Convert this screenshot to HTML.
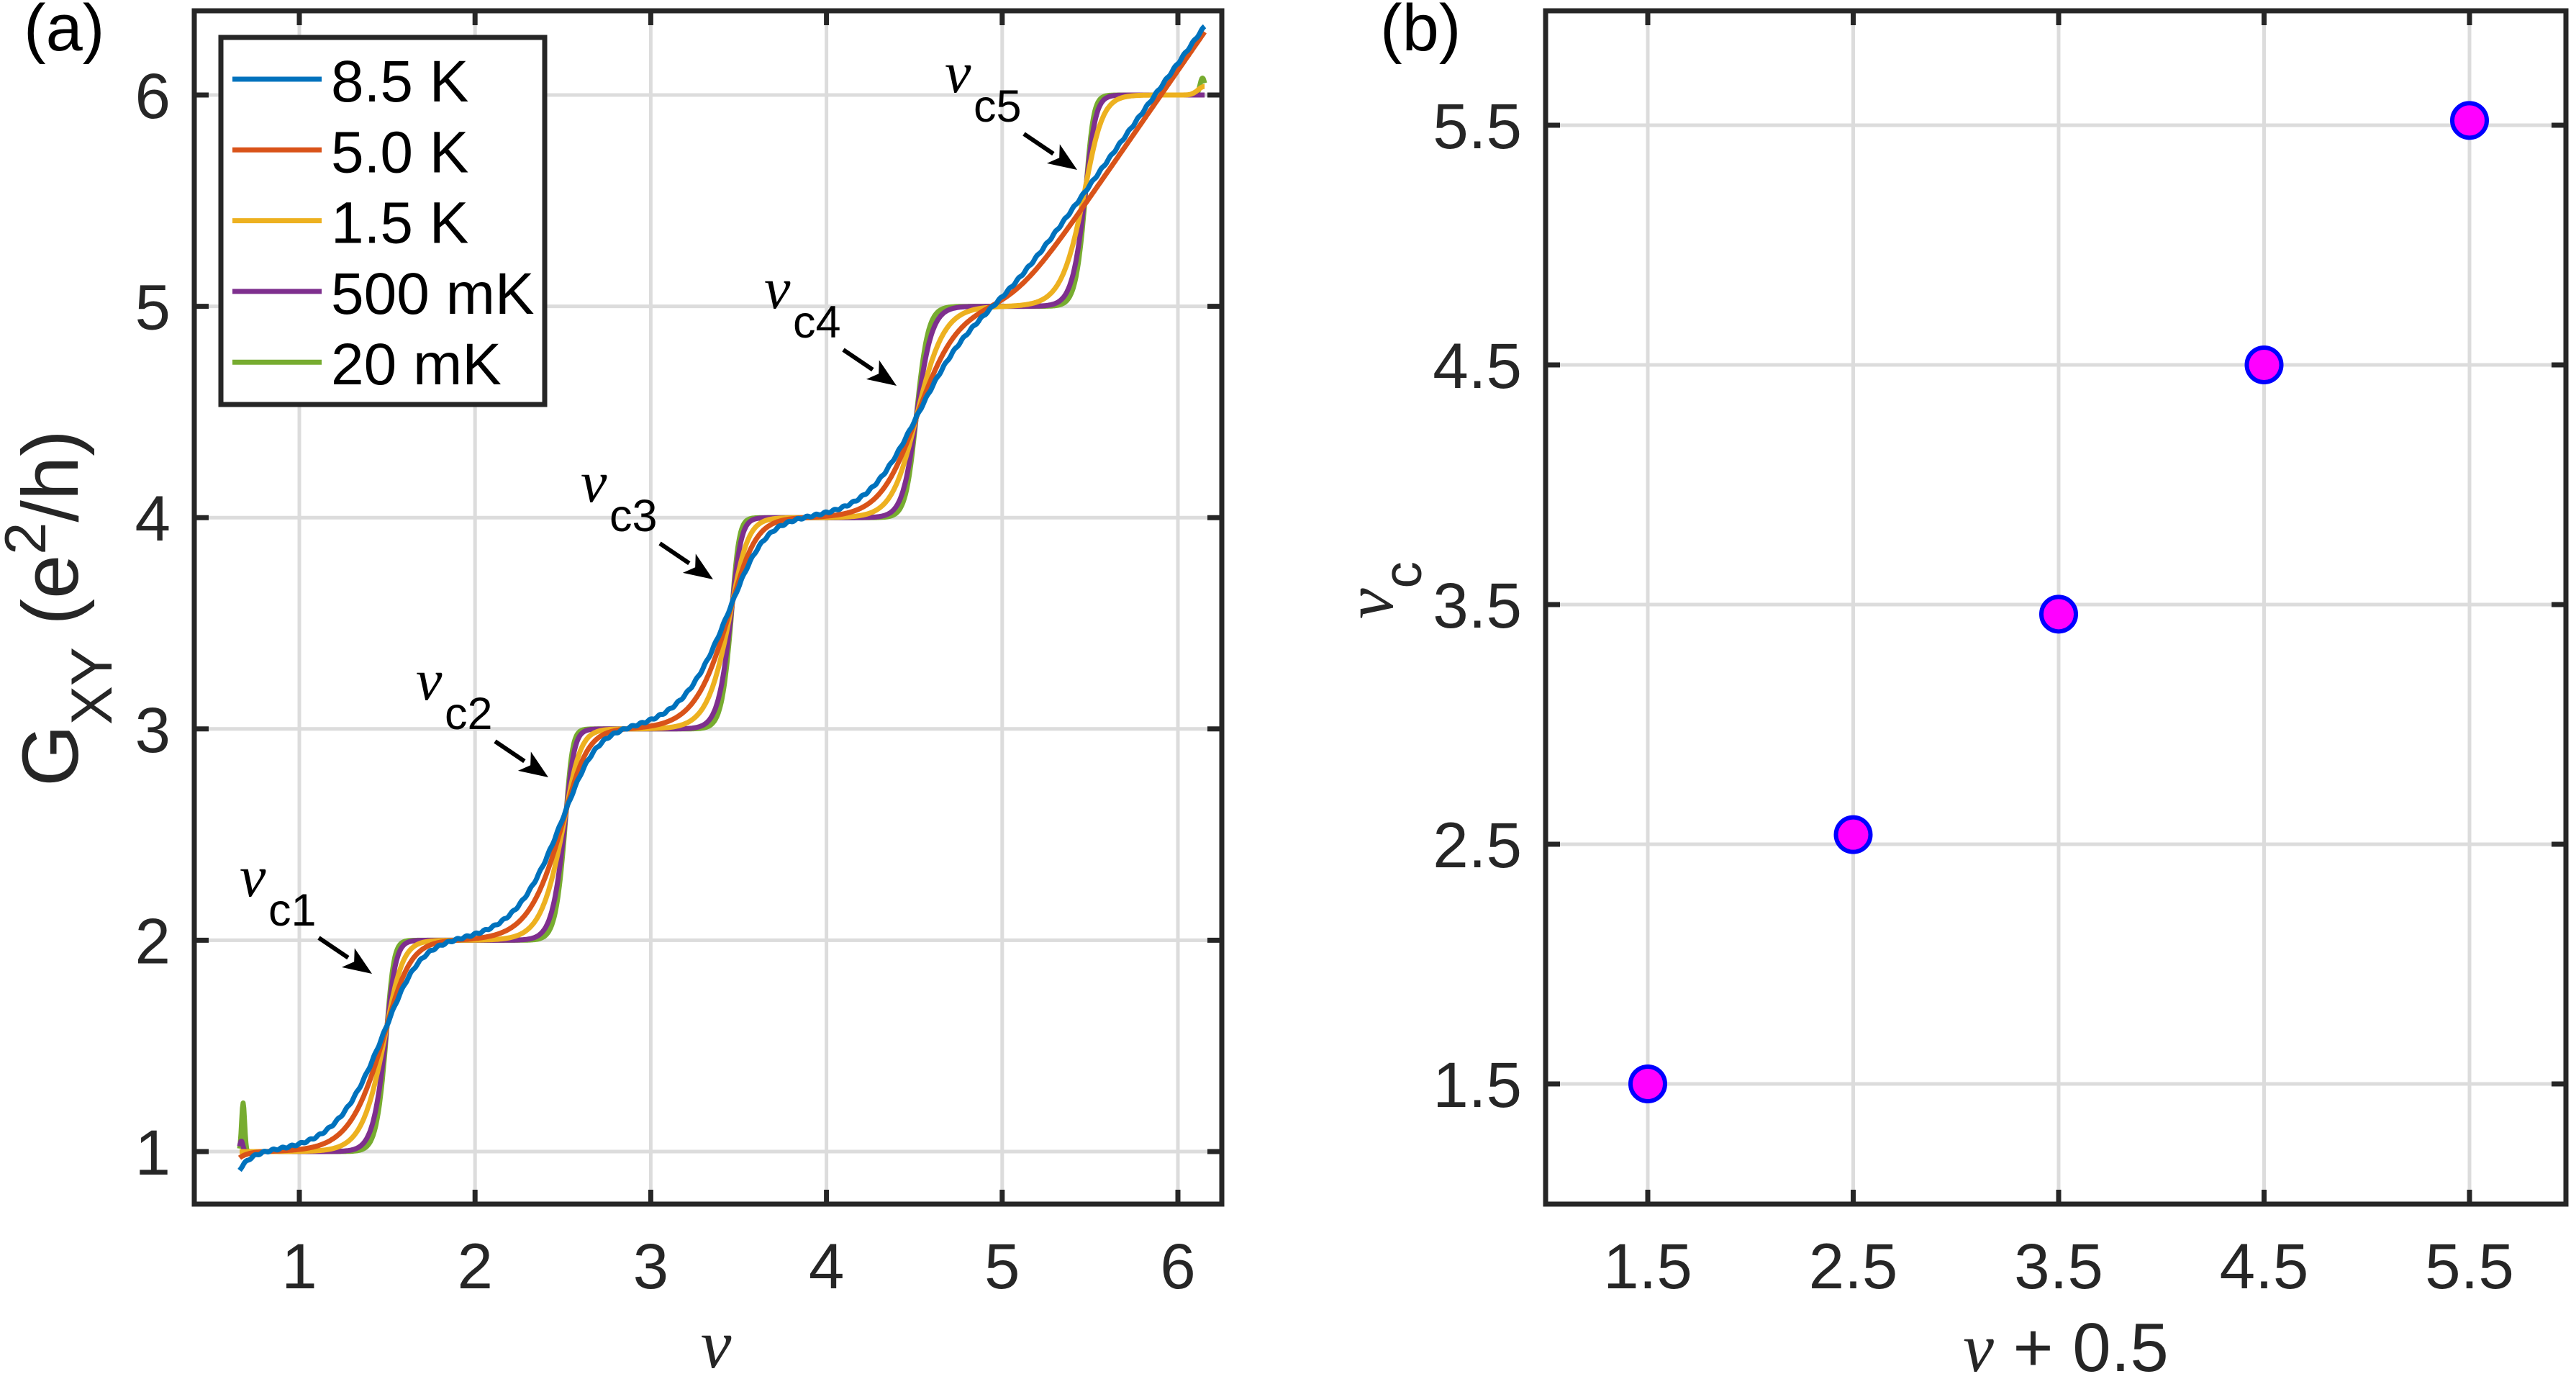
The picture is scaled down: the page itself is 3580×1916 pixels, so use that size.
<!DOCTYPE html>
<html><head><meta charset="utf-8"><style>
html,body{margin:0;padding:0;background:#fff;}
svg{display:block;}
text{font-family:"Liberation Sans",sans-serif;}
.nu{font-family:"Liberation Serif","DejaVu Serif",serif;font-style:italic;}
</style></head><body>
<svg id="s" width="3580" height="1916" viewBox="0 0 3580 1916" xmlns="http://www.w3.org/2000/svg">
<rect width="3580" height="1916" fill="#fff"/>
<g id="g"></g>
</svg>
<script>
const NS="http://www.w3.org/2000/svg";
const G=document.getElementById('g');
function el(t,a,txt){const e=document.createElementNS(NS,t);for(const k in a)e.setAttribute(k,a[k]);if(txt!==undefined)e.textContent=txt;G.appendChild(e);return e;}
const AX="#262626",GR="#dcdcdc";
// Panel a
const aL=270,aR=1698,aT=15,aB=1673;
const ax=v=>416+(v-1)*244.2, ay=g=>1600-(g-1)*293.6;
for(let v=1;v<=6;v++){el('line',{x1:ax(v),x2:ax(v),y1:aT,y2:aB,stroke:GR,'stroke-width':5});}
for(let g=1;g<=6;g++){el('line',{x1:aL,x2:aR,y1:ay(g),y2:ay(g),stroke:GR,'stroke-width':5});}
const steps=[[1.5,0.6],[2.52,0.62],[3.465,0.6],[4.51,0.47],[5.48,0.59]];
const th=Math.tanh;
function stepval(v,c,p,w){
  if(v<c){return p*(1+th((v-c)/w));}
  const wr=w*(1-p)/p; return p+(1-p)*th((v-c)/wr);
}
function sp(x,w){return w*Math.log(1+Math.exp(x/w));}
const series=[
 {c:"#77AC30",w:0.06},
 {c:"#7E2F8E",w:0.08},
 {c:"#EDB120",w:0.14},
 {c:"#D95319",w:0.21},
 {c:"#0072BD",w:0.29}
];
series.forEach((s,i)=>{
  let pts=[];
  const hi=(s.c==="#0072BD"||s.c==="#D95319");
  for(let v=0.66;v<=6.155;v+=0.004){
    let g=1;
    const n=hi?4:5;
    for(let k=0;k<n;k++){g+=stepval(v,steps[k][0],steps[k][1],s.w);}
    if(s.c==="#0072BD"){g+=1.15*sp(v-5.0,0.12);g-=0.09*Math.exp(-(v-0.66)/0.07);g+=0.004*Math.sin(v*120);}
    if(s.c==="#D95319"){g+=1.2*sp(v-5.07,0.1);g-=0.03*Math.exp(-(v-0.66)/0.05);}
    if(s.c==="#77AC30"){g+=0.23*Math.exp(-Math.pow((v-0.68)/0.012,2));g+=0.08*Math.exp(-Math.pow((v-6.14)/0.02,2));}
    if(s.c==="#7E2F8E"){g+=0.05*Math.exp(-Math.pow((v-0.67)/0.012,2));}
    if(s.c==="#EDB120"){g+=0.04*Math.exp(-Math.pow((v-6.15)/0.05,2));}
    pts.push(ax(v).toFixed(1)+","+ay(g).toFixed(1));
  }
  el('polyline',{points:pts.join(" "),fill:"none",stroke:s.c,'stroke-width':7,'stroke-linejoin':'round'});
});
el('rect',{x:aL,y:aT,width:aR-aL,height:aB-aT,fill:"none",stroke:AX,'stroke-width':7});
for(let v=1;v<=6;v++){el('line',{x1:ax(v),x2:ax(v),y1:aB,y2:aB-20,stroke:AX,'stroke-width':7});el('line',{x1:ax(v),x2:ax(v),y1:aT,y2:aT+20,stroke:AX,'stroke-width':7});
 el('text',{x:ax(v),y:1790,'font-size':89,fill:AX,'text-anchor':'middle'},String(v));}
for(let g=1;g<=6;g++){el('line',{x1:aL,x2:aL+20,y1:ay(g),y2:ay(g),stroke:AX,'stroke-width':7});el('line',{x1:aR,x2:aR-20,y1:ay(g),y2:ay(g),stroke:AX,'stroke-width':7});
 el('text',{x:237,y:ay(g)+32,'font-size':89,fill:AX,'text-anchor':'end'},String(g));}
el('rect',{x:307,y:52,width:450,height:510,fill:"#fff",stroke:AX,'stroke-width':7});
const leg=[["8.5 K","#0072BD"],["5.0 K","#D95319"],["1.5 K","#EDB120"],["500 mK","#7E2F8E"],["20 mK","#77AC30"]];
leg.forEach((l,i)=>{const y=110+i*98.3;el('line',{x1:323,x2:447,y1:y,y2:y,stroke:l[1],'stroke-width':7});
 el('text',{x:460,y:y+31,'font-size':82,fill:"#000"},l[0]);});
const ann=[[333,1245,"c1"],[578,972,"c2"],[807,697,"c3"],[1062,428,"c4"],[1313,128,"c5"]];
ann.forEach(a=>{const [x,y,t]=a;
 el('text',{x:x,y:y,'font-size':82,fill:"#000",class:"nu"},"ν");
 el('text',{x:x+40,y:y+41,'font-size':63,fill:"#000"},t);
 const x1=x+110,y1=y+58,x2=x+184,y2=y+108;
 const dx=x2-x1,dy=y2-y1,L=Math.hypot(dx,dy),ux=dx/L,uy=dy/L;
 const bx=x2-ux*40,by=y2-uy*40;
 el('line',{x1:x1,y1:y1,x2:bx,y2:by,stroke:"#000",'stroke-width':6});
 el('polygon',{points:`${x2},${y2} ${bx-uy*16},${by+ux*16} ${x2-ux*30},${y2-uy*30} ${bx+uy*16},${by-ux*16}`,fill:"#000"});
});
el('text',{x:995,y:1900,'font-size':96,fill:AX,'text-anchor':'middle',class:"nu"},"ν");
const yl=el('text',{transform:"translate(108,845) rotate(-90)",'font-size':110,fill:AX,'text-anchor':'middle'});
yl.innerHTML='G<tspan font-size="81" dy="47">XY</tspan><tspan dy="-47"> (e</tspan><tspan font-size="81" dy="-45">2</tspan><tspan dy="45">/h)</tspan>';
el('text',{x:33,y:70,'font-size':92,fill:"#000"},"(a)");
// Panel b
const bL=2148,bR=3566,bT=15,bB=1673;
const bx_=v=>2290+(v-1.5)*285.5, by_=v=>1506-(v-1.5)*333;
const tk=[1.5,2.5,3.5,4.5,5.5];
tk.forEach(v=>{el('line',{x1:bx_(v),x2:bx_(v),y1:bT,y2:bB,stroke:GR,'stroke-width':5});el('line',{x1:bL,x2:bR,y1:by_(v),y2:by_(v),stroke:GR,'stroke-width':5});});
el('rect',{x:bL,y:bT,width:bR-bL,height:bB-bT,fill:"none",stroke:AX,'stroke-width':7});
tk.forEach(v=>{
 el('line',{x1:bx_(v),x2:bx_(v),y1:bB,y2:bB-20,stroke:AX,'stroke-width':7});el('line',{x1:bx_(v),x2:bx_(v),y1:bT,y2:bT+20,stroke:AX,'stroke-width':7});
 el('line',{x1:bL,x2:bL+20,y1:by_(v),y2:by_(v),stroke:AX,'stroke-width':7});el('line',{x1:bR,x2:bR-20,y1:by_(v),y2:by_(v),stroke:AX,'stroke-width':7});
 el('text',{x:bx_(v),y:1790,'font-size':89,fill:AX,'text-anchor':'middle'},v.toFixed(1));
 el('text',{x:2115,y:by_(v)+32,'font-size':89,fill:AX,'text-anchor':'end'},v.toFixed(1));
});
[[1.5,1.5],[2.5,2.54],[3.5,3.46],[4.5,4.5],[5.5,5.52]].forEach(p=>{
 el('circle',{cx:bx_(p[0]),cy:by_(p[1]),r:24,fill:"#ff00ff",stroke:"#0000ff",'stroke-width':6});});
const yb=el('text',{transform:"translate(1935,820) rotate(-90)",'font-size':96,fill:AX,'text-anchor':'middle'});
yb.innerHTML='<tspan font-family="Liberation Serif, serif" font-style="italic">ν</tspan><tspan font-size="75" dy="40">c</tspan>';
const xb=el('text',{x:2871,y:1905,'font-size':96,fill:AX,'text-anchor':'middle'});
xb.innerHTML='<tspan font-family="Liberation Serif, serif" font-style="italic">ν</tspan> + 0.5';
el('text',{x:1918,y:70,'font-size':92,fill:"#000"},"(b)");
</script>
</body></html>
